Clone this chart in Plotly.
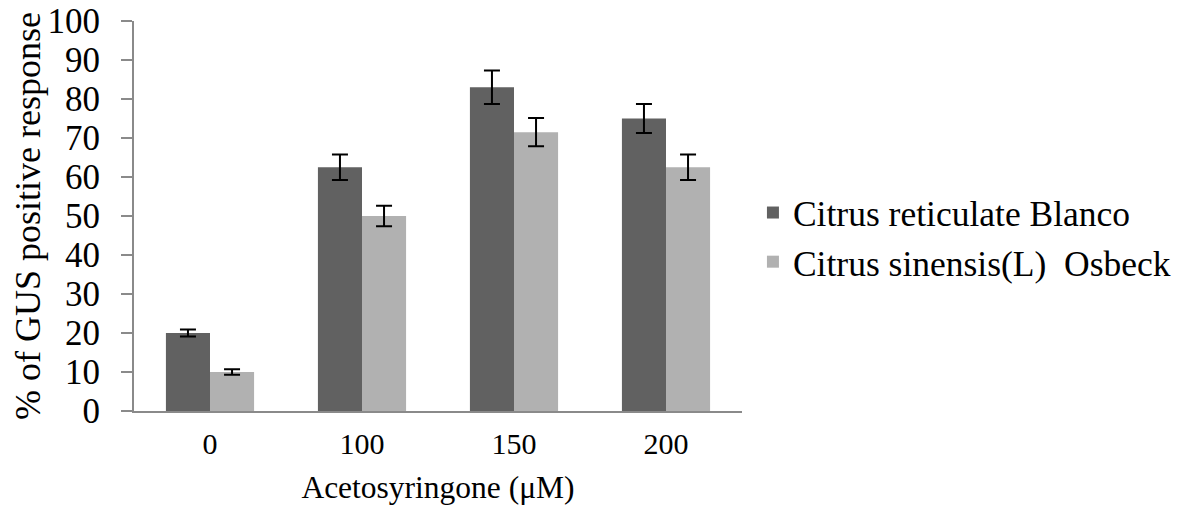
import plotly.graph_objects as go

categories = ["0", "100", "150", "200"]
reticulate = [20, 62.5, 83, 75]
reticulate_err = [0.9, 3.3, 4.3, 3.7]
sinensis = [10, 50, 71.5, 62.5]
sinensis_err = [0.7, 2.6, 3.6, 3.3]
series_names = ["Citrus reticulate Blanco", "Citrus sinensis(L)  Osbeck"]

FONT = "Liberation Serif, Times New Roman, serif"

fig = go.Figure()
fig.add_trace(go.Bar(
    x=categories, y=reticulate, name=series_names[0], legendgroup="a",
    marker=dict(color="#616161", line=dict(width=0)),
    error_y=dict(type="data", array=reticulate_err, color="black", thickness=2, width=8),
))
fig.add_trace(go.Bar(
    x=categories, y=sinensis, name=series_names[1], legendgroup="b",
    marker=dict(color="#b1b1b1", line=dict(width=0)),
    error_y=dict(type="data", array=sinensis_err, color="black", thickness=2, width=8),
))

fig.update_layout(
    width=1181, height=512,
    margin=dict(l=126, r=447, t=13, b=109),
    paper_bgcolor="white", plot_bgcolor="white",
    barmode="group", bargap=0.42, bargroupgap=0,
    font=dict(family=FONT, color="black", size=34),
    showlegend=True,
    legend=dict(x=1.018, xanchor="left", y=0.445, yanchor="middle",
                font=dict(family=FONT, size=35.5), tracegroupgap=0,
                traceorder="grouped", itemwidth=30),
    xaxis=dict(showline=True, linecolor="#8a8a8a", linewidth=2, ticks="",
               tickfont=dict(size=30), showgrid=False, automargin=False,
               ticklabelstandoff=5,
               title=dict(text="Acetosyringone (μM)", font=dict(size=31.5), standoff=17)),
    yaxis=dict(range=[0, 100], dtick=10, showline=True, linecolor="#8a8a8a", linewidth=2,
               ticks="outside", ticklen=11, tickwidth=2, tickcolor="#8a8a8a",
               tickfont=dict(size=35), showgrid=False, zeroline=False, automargin=False,
               ticklabelstandoff=14, ticklabeloverflow="allow",
               title=dict(text="% of GUS positive response", font=dict(size=36), standoff=12)),
)

fig.write_html("out.html")
